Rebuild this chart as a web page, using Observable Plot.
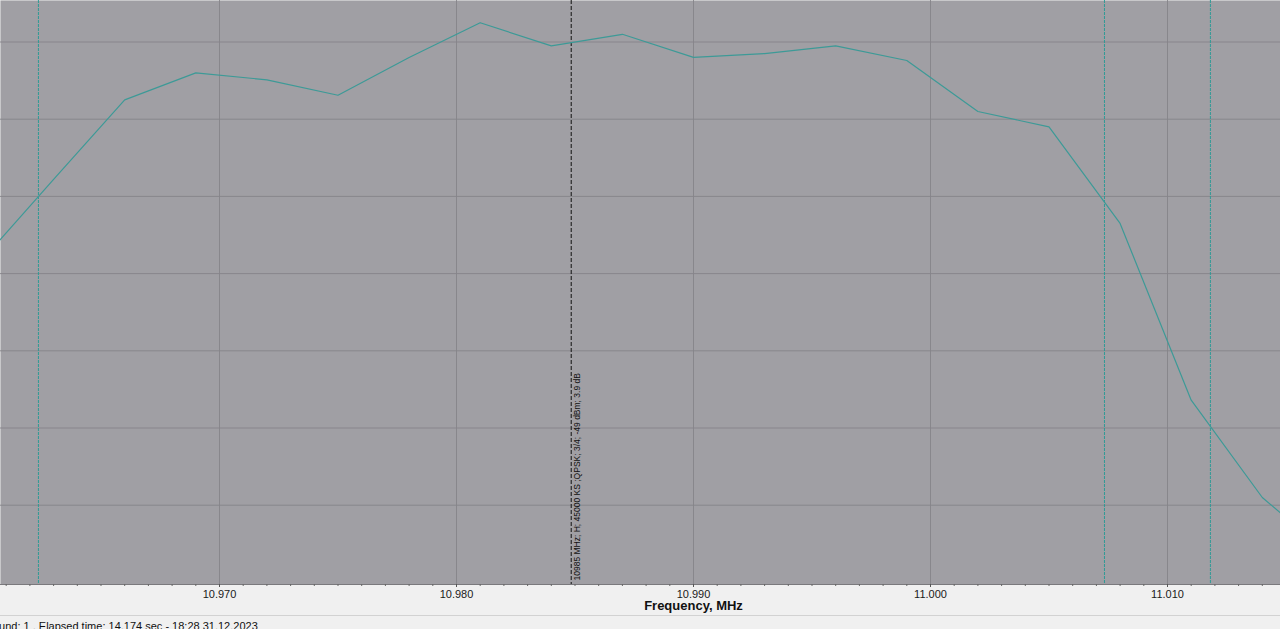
<!DOCTYPE html>
<html><head><meta charset="utf-8">
<script src="https://cdn.jsdelivr.net/npm/d3@7"></script>
<script src="https://cdn.jsdelivr.net/npm/@observablehq/plot@0.6"></script>
<style>
html,body{margin:0;padding:0;background:#f0f0f0;overflow:hidden;width:1280px;height:629px}
#chart svg{display:block}
#status{position:absolute;left:0;top:615px;width:1280px;height:14px;border-top:1px solid #d2d2d2;font:11px "Liberation Sans",sans-serif;color:#111;overflow:hidden;white-space:nowrap}
#status span{position:absolute;left:-15px;top:3px;line-height:14px}
</style>
</head><body>
<div id="chart"></div>
<div id="status"><span>Round: 1 . Elapsed time: 14.174 sec - 18:28 31.12.2023</span></div>
<script>
// Spectrum trace (frequency in MHz as labelled, level in dB)
const freqs  = [10.960, 10.963, 10.966, 10.969, 10.972, 10.975, 10.978, 10.981, 10.984, 10.987, 10.990, 10.993, 10.996, 10.999, 11.002, 11.005, 11.008, 11.011, 11.014, 11.017];
const levels = [-51.82, -50.78, -49.75, -49.40, -49.49, -49.69, -49.20, -48.75, -49.05, -48.90, -49.20, -49.15, -49.05, -49.24, -49.90, -50.10, -51.35, -53.64, -54.90, -55.68];
const majorTicks = [10.970, 10.980, 10.990, 11.000, 11.010];
const gridLevels = [-49, -50, -51, -52, -53, -54, -55];
const markerFreq = 10.98484;
const markerLabel = "10985 MHz; H; 45000 KS ;QPSK; 3/4; -49 dBm; 3.9 dB";
const boundaryFreqs = [10.96236, 11.00734, 11.01181];
const axisTitle = "Frequency, MHz";

const data = freqs.map((f, i) => ({f, v: levels[i]}));
const minorTicks = d3.range(10961, 11015).map(d => d / 1000);

const teal = "#3d9a97";
const gridCol = "#858489";

const chart = Plot.plot({
  width: 1280,
  height: 615,
  marginTop: 0,
  marginBottom: 31,
  marginLeft: 0,
  marginRight: 0,
  style: {background: "#f0f0f0", fontFamily: "'Liberation Sans', sans-serif", fontSize: "11px", color: "#1a1a1a"},
  x: {domain: [10.9607595, 11.0147679], label: null},
  y: {domain: [-56.0272, -48.4624], axis: null},
  marks: [
    Plot.frame({fill: "#a09fa4", stroke: null}),
    Plot.ruleY(gridLevels, {stroke: gridCol, strokeWidth: 1, strokeOpacity: 0.9}),
    Plot.ruleX(majorTicks, {stroke: gridCol, strokeWidth: 1, strokeOpacity: 0.9}),
    Plot.ruleX(boundaryFreqs, {stroke: "#2f9a96", strokeWidth: 1, strokeDasharray: "3,1"}),
    Plot.ruleX([markerFreq], {stroke: "#111", strokeWidth: 1, strokeDasharray: "4,2"}),
    Plot.line(data, {x: "f", y: "v", stroke: teal, strokeWidth: 1.2, clip: true}),
    Plot.text([markerLabel], {x: () => markerFreq, frameAnchor: "bottom", rotate: -90, textAnchor: "start", lineAnchor: "middle", dx: 6, dy: -4, fontSize: 8.5, fill: "#111"}),
    Plot.ruleY([-56.0272], {stroke: "#7a797d", strokeWidth: 1}),
    Plot.axisX({ticks: minorTicks, tickSize: 2, text: null, stroke: "#666"}),
    Plot.axisX({ticks: majorTicks, tickSize: 3, tickPadding: 3, tickFormat: d3.format(".3f"), stroke: "#555", fill: "#1a1a1a", fontSize: 11}),
    Plot.text([axisTitle], {x: () => 10.990, frameAnchor: "bottom", dy: 25, fontWeight: "bold", fontSize: 13, fill: "#111"})
  ]
});
document.getElementById("chart").appendChild(chart);
</script>
</body></html>
